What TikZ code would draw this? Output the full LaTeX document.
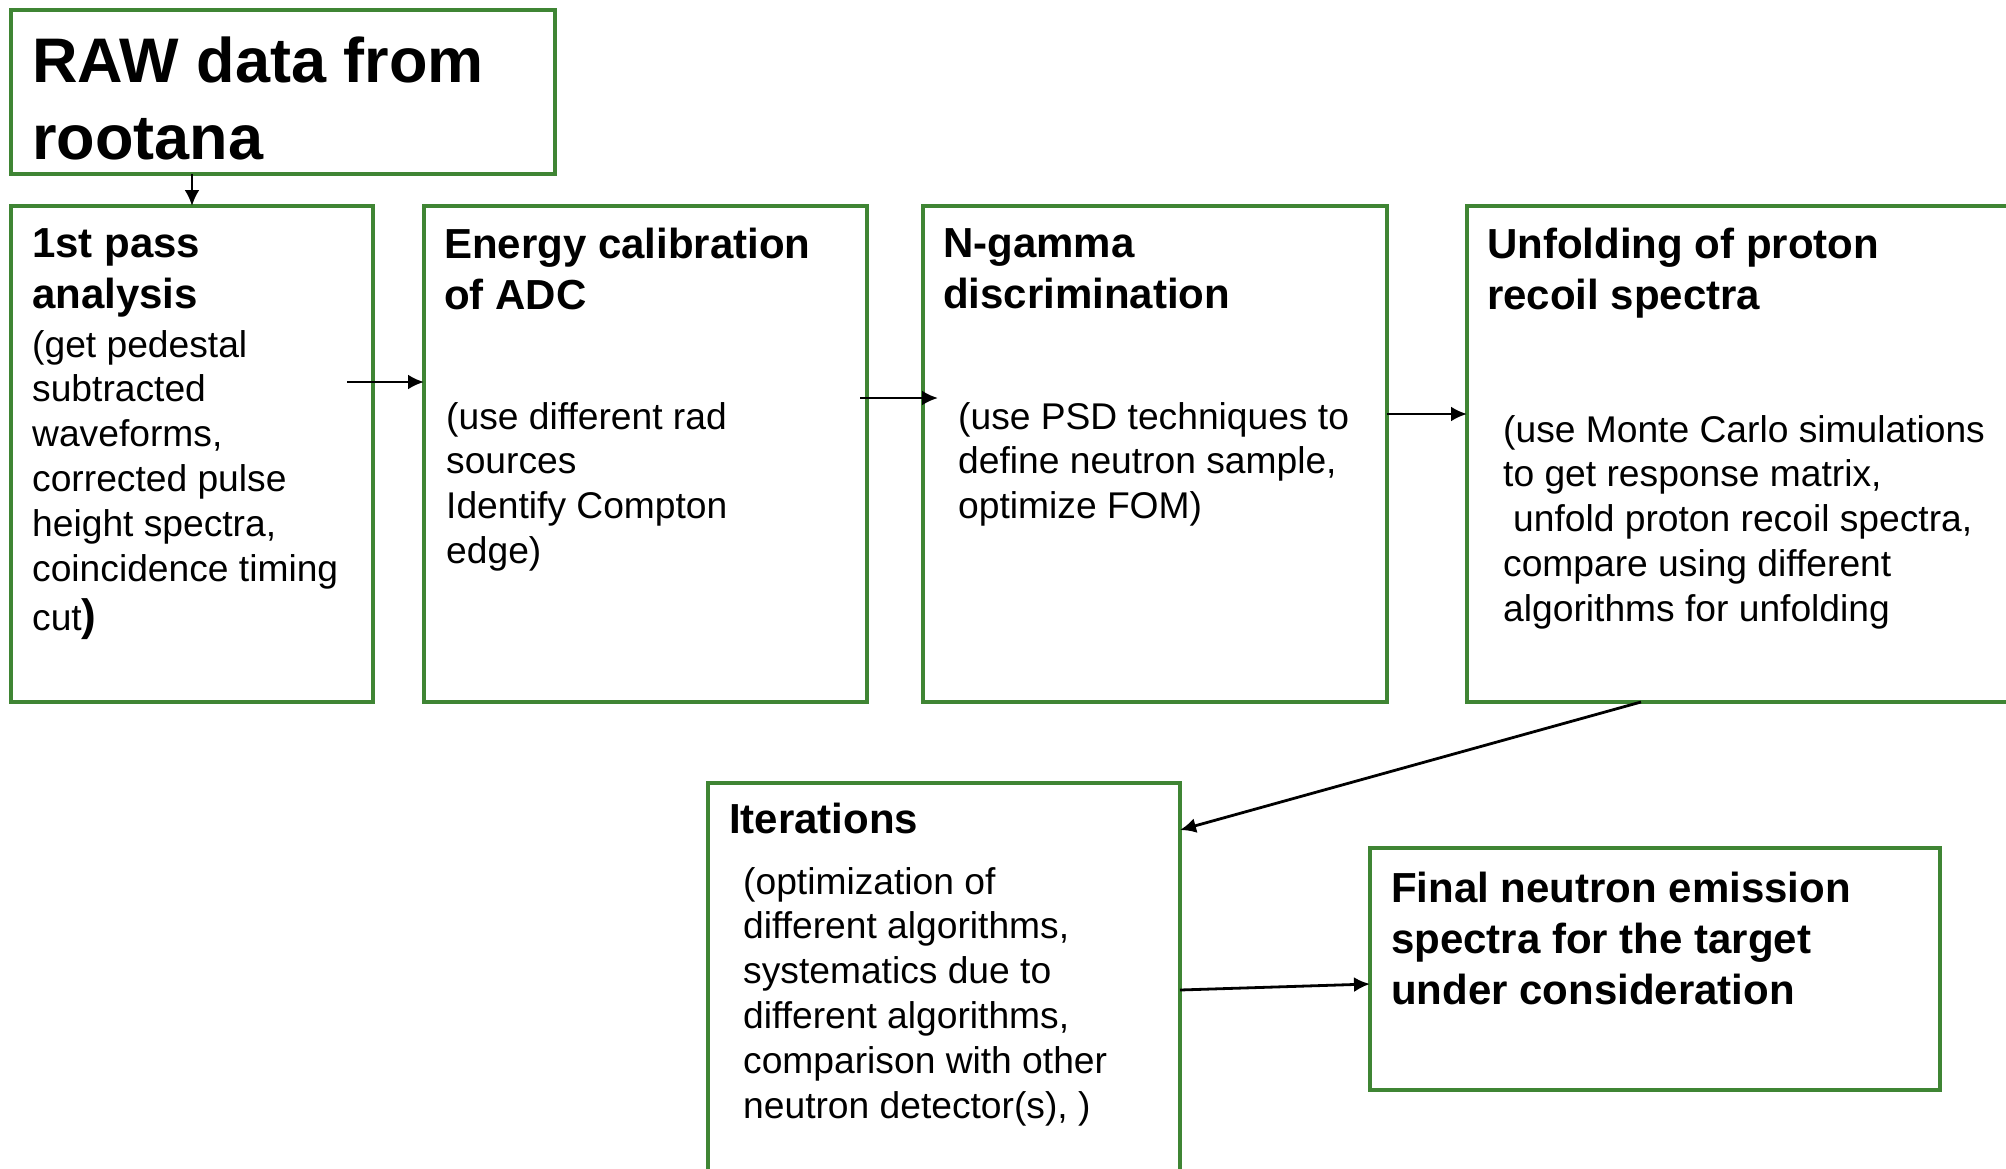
\documentclass[tikz,border=0pt]{standalone}
\usepackage{fontspec}
\setmainfont{Liberation Sans}
\usetikzlibrary{arrows.meta,positioning}
\definecolor{leaf}{HTML}{3F8534}
\tikzset{
  box/.style={draw=leaf, line width=4.5pt, outer sep=0pt, inner sep=0pt,
    minimum height=496pt},
  head/.style={inner sep=0pt, align=left, font=\fontsize{42}{51}\selectfont\bfseries},
  bigHead/.style={head, font=\fontsize{63}{77}\selectfont\bfseries},
  body/.style={inner sep=0pt, align=left, font=\fontsize{37.2}{44.8}\selectfont},
  arrow/.style={-{Latex[length=16pt,width=15pt]}, line width=2.8pt, draw=black}
}

\begin{document}
\begin{tikzpicture}
  \useasboundingbox (0,0) rectangle (2006pt,-1168pt);

  \node[box,anchor=north west,minimum width=544pt,minimum height=164pt] (raw) at (11pt,-10pt) {};
  \node[box,below right=32pt and 0pt of raw.south west,minimum width=362pt] (pass) {};
  \node[box,right=51pt of pass,minimum width=443pt] (energy) {};
  \node[box,right=56pt of energy,minimum width=464pt] (ngamma) {};
  \node[box,right=80pt of ngamma,minimum width=580pt] (unfold) {};
  \node[box,below right=81pt and 284pt of energy.south west,minimum width=472pt,
    minimum height=430pt] (iter) {};
  \node[box,below right=65pt and 190pt of iter.north east,minimum width=570pt,
    minimum height=242pt] (final) {};

  \node[bigHead,below right=27pt and 21pt of raw.north west] (rawT) {RAW data from\\rootana};

  \node[head,below right=22pt and 21pt of pass.north west] (passT) {1st pass\\analysis};
  \node[body,below right=124pt and 21pt of pass.north west] (passB)
    {(get pedestal\\subtracted\\waveforms,\\corrected pulse\\height spectra,\\coincidence timing\\[5pt]
     cut{\fontsize{44}{50}\selectfont\bfseries)}};

  \node[head,below right=22pt and 20pt of energy.north west] (energyT) {Energy calibration\\of ADC};
  \node[body,below right=196pt and 22pt of energy.north west] (energyB)
    {(use different rad\\sources\\Identify Compton\\edge)};

  \node[head,below right=22pt and 20pt of ngamma.north west] (ngammaT) {N-gamma\\discrimination};
  \node[body,below right=196pt and 35pt of ngamma.north west] (ngammaB)
    {(use PSD techniques to\\define neutron sample,\\optimize FOM)};

  \node[head,below right=22pt and 20pt of unfold.north west] (unfoldT) {Unfolding of proton\\recoil spectra};
  \node[body,below right=209pt and 36pt of unfold.north west] (unfoldB)
    {(use Monte Carlo simulations\\to get response matrix,\\\hspace*{10pt}unfold proton recoil spectra,\\
     compare using different\\algorithms for unfolding};

  \node[head,below right=20pt and 21pt of iter.north west] (iterT) {Iterations};
  \node[body,below right=84pt and 35pt of iter.north west] (iterB)
    {(optimization of\\different algorithms,\\systematics due to\\different algorithms,\\
     comparison with other\\neutron detector(s), )};

  \node[head,below right=24pt and 21pt of final.north west] (finalT)
    {Final neutron emission\\spectra for the target\\under consideration};

  \draw[arrow] (raw.south -| pass.north) -- (pass.north);
  \draw[arrow] ([shift={(-26pt,72pt)}]pass.east) -- ([yshift=72pt]energy.west);
  \draw[arrow] ([shift={(-7pt,56pt)}]energy.east) -- ([shift={(15pt,56pt)}]ngamma.west);
  \draw[arrow] ([yshift=40pt]ngamma.east) -- ([yshift=40pt]unfold.west);
  \draw[arrow] ([xshift=174pt]unfold.south west) -- ([yshift=-47pt]iter.north east);
  \draw[arrow] ([yshift=-207pt]iter.north east) -- ([yshift=-15pt]final.west);
\end{tikzpicture}
\end{document}
